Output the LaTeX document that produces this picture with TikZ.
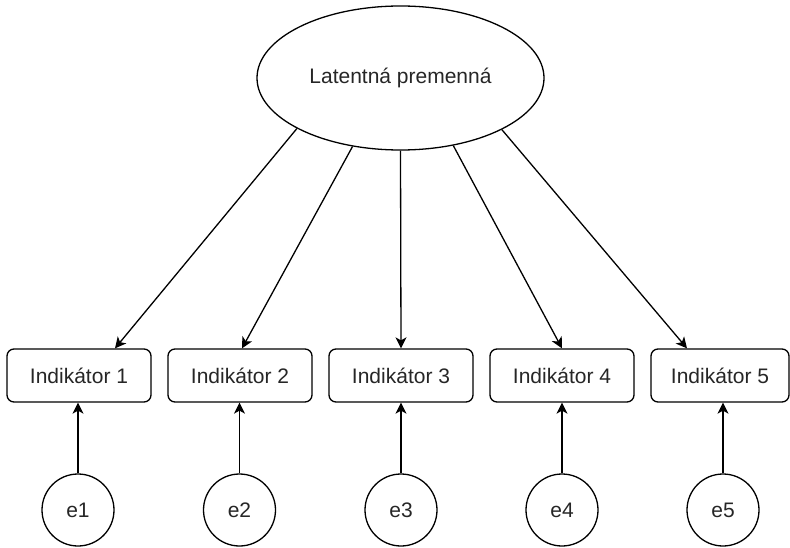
\documentclass[tikz,border=0pt]{standalone}
\usepackage{fontspec}
\setmainfont{Liberation Sans}
\usetikzlibrary{shapes.geometric,arrows.meta}
\begin{document}
\begin{tikzpicture}[x=1pt,y=-1pt,
  every node/.style={font=\fontsize{21}{25}\selectfont, text=black!85},
  lat/.style={draw, ellipse, line width=1.3pt, minimum width=287pt, minimum height=144pt, inner sep=0pt},
  ind/.style={draw, rounded corners=7pt, line width=1.3pt, minimum width=144pt, minimum height=53pt, inner sep=0pt},
  err/.style={draw, circle, line width=1.3pt, minimum size=72pt, inner sep=0pt},
  conn/.style={line width=1.3pt, -{Stealth[length=11pt,width=11pt,inset=3pt]}}]
\useasboundingbox (0,0) rectangle (790,548);
\node[lat] (L) at (400.5,78) {Latentná premenná};
\node[ind] (i1) at (79,375.5) {Indikátor 1};
\node[ind] (i2) at (240,375.5) {Indikátor 2};
\node[ind] (i3) at (401,375.5) {Indikátor 3};
\node[ind] (i4) at (562,375.5) {Indikátor 4};
\node[ind, minimum width=138pt] (i5) at (720,375.5) {Indikátor 5};
\node[err] (e1) at (78,510) {e1};
\node[err] (e2) at (239.5,510) {e2};
\node[err] (e3) at (401,510) {e3};
\node[err] (e4) at (562,510) {e4};
\node[err] (e5) at (723,510) {e5};
\draw[conn] (L.206.7) -- ([xshift=36pt]i1.north);
\draw[conn] (L.235.5) -- ([xshift=2pt]i2.north);
\draw[conn] (L.270) -- (i3.north);
\draw[conn] (L.308.6) -- (i4.north);
\draw[conn] (L.333.5) -- ([xshift=-33pt]i5.north);
\draw[conn] (e1) -- (e1 |- i1.south);
\draw[conn] (e2) -- (e2 |- i2.south);
\draw[conn] (e3) -- (e3 |- i3.south);
\draw[conn] (e4) -- (e4 |- i4.south);
\draw[conn] (e5) -- (e5 |- i5.south);
\end{tikzpicture}
\end{document}
